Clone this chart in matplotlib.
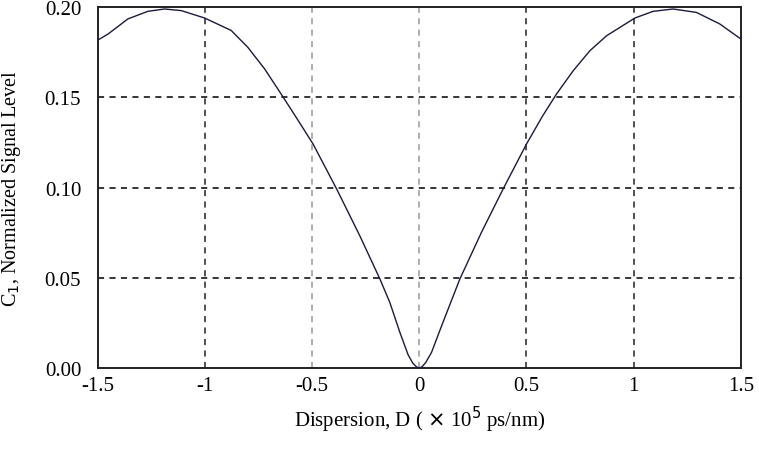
import matplotlib.pyplot as plt

# values
disp = [-1.5, -1.453, -1.36, -1.267, -1.189, -1.111, -1.002, -0.878, -0.8, -0.722,
        -0.645, -0.583, -0.496, -0.386, -0.278, -0.184, -0.138, -0.091, -0.052, -0.03,
        -0.013, 0.0, 0.013, 0.03, 0.057, 0.104, 0.189, 0.29, 0.391, 0.5, 0.575, 0.64,
        0.718, 0.796, 0.874, 1.006, 1.091, 1.184, 1.293, 1.402, 1.5]
signal = [0.1817, 0.185, 0.1934, 0.1976, 0.1989, 0.198, 0.1939, 0.187, 0.1776, 0.1657,
          0.1518, 0.1404, 0.1241, 0.0992, 0.0733, 0.0493, 0.0364, 0.0198, 0.0072, 0.0026,
          0.0006, 0.0, 0.0007, 0.0031, 0.0087, 0.0234, 0.0493, 0.0752, 0.0992, 0.1241,
          0.1396, 0.1518, 0.1647, 0.1758, 0.1841, 0.1939, 0.1976, 0.1989, 0.197, 0.1906,
          0.1823]

xticks = [-1.5, -1, -0.5, 0, 0.5, 1, 1.5]
xlabels = ["-1.5", "-1", "-0.5", "0", "0.5", "1", "1.5"]
yticks = [0.0, 0.05, 0.10, 0.15, 0.20]
ylabels = ["0.00", "0.05", "0.10", "0.15", "0.20"]

plt.rcParams['font.family'] = ['Liberation Serif', 'DejaVu Serif']

fig = plt.figure(figsize=(7.59, 4.52), dpi=100)
ax = fig.add_axes([0.129, 0.1836, 0.847, 0.7987])

for y in yticks[1:-1]:
    ax.axhline(y, color='black', lw=1.1, ls=(0, (4, 3.5)), zorder=1)
for x in xticks[1:-1]:
    c = '#999999' if x in (-0.5, 0) else '#222222'
    ax.axvline(x, color=c, lw=1.1, ls=(0, (4, 3.5)), zorder=1)

ax.plot(disp, signal, color='#1a1a40', lw=1.0, zorder=3)

ax.set_xlim(-1.5, 1.5)
ax.set_ylim(0, 0.2)
ax.set_xticks(xticks)
ax.set_xticklabels(xlabels)
ax.set_yticks(yticks)
ax.set_yticklabels(ylabels)
ax.tick_params(length=0, labelsize=15)
ax.tick_params(axis='x', pad=6)
ax.tick_params(axis='y', pad=12)
for s in ax.spines.values():
    s.set_linewidth(1.4)
    s.set_color('#222222')

ax.set_xlabel(r"Dispersion, D ( $\times$ 10$^5$ ps/nm)", fontsize=15, labelpad=6)
ax.set_ylabel("C$_1$, Normalized Signal Level", fontsize=14.5)
ax.yaxis.set_label_coords(-0.116, 0.5)

fig.savefig("out.png", dpi=100)
